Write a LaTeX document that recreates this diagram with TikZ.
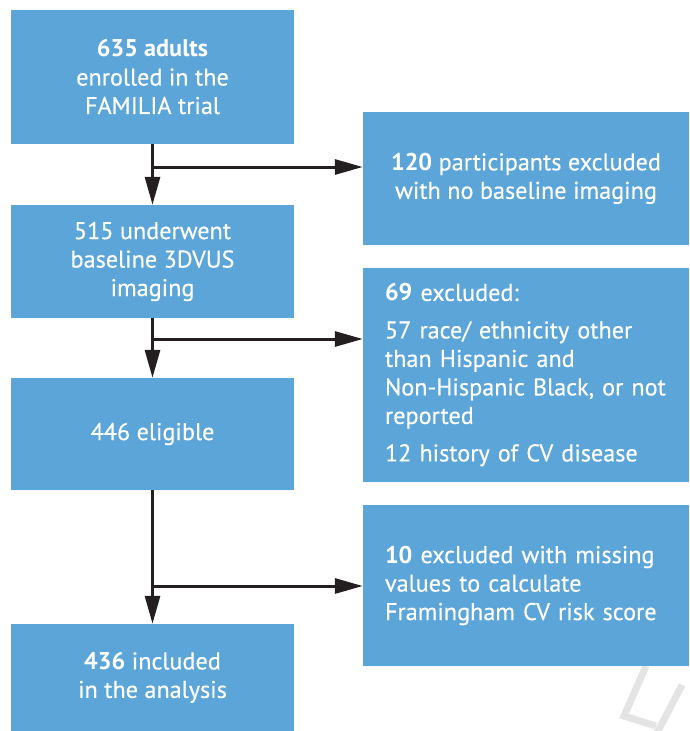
\documentclass[tikz,border=0pt]{standalone}
\usepackage{fontspec}
\setmainfont{PT Sans}[UprightFeatures={FakeBold=0.35}]
\usetikzlibrary{arrows.meta}
\definecolor{boxblue}{RGB}{91,165,217}
\definecolor{arrowblack}{RGB}{35,31,32}
\definecolor{wmgray}{RGB}{228,228,228}
\tikzset{
  flowbox/.style={fill=boxblue, draw=none, text=white, inner sep=0pt,
    font=\fontsize{24.2}{28.5}\selectfont, align=center},
  leftbox/.style={minimum width=283pt},
  rightbox/.style={minimum width=326pt},
  flowarrow/.style={draw=arrowblack, line width=3pt,
    -{Triangle[length=28pt,width=15pt]}},
  flowline/.style={draw=arrowblack, line width=3pt}
}
\begin{document}
\begin{tikzpicture}[x=1pt,y=-1pt]
\path[use as bounding box] (0,0) rectangle (689,731);
% watermark
\draw[wmgray, line width=7pt] (646,666) -- (624,716) -- (656,726);
\draw[wmgray, line width=7pt] (682,685) -- (657,733);
% left column
\node[flowbox, leftbox, minimum height=134pt] (a) at (152.5,77)
  {{\bfseries 635 adults}\\enrolled in the\\FAMILIA trial};
\node[flowbox, leftbox, minimum height=113pt] (b) at (152.5,261.5)
  {515 underwent\\baseline 3DVUS\\imaging};
\node[flowbox, leftbox, minimum height=112pt] (c) at (152.5,434)
  {446 eligible};
\node[flowbox, leftbox, minimum height=107pt] (d) at (152.5,677.5)
  {{\bfseries 436} included\\in the analysis};
% right column
\node[flowbox, rightbox, minimum height=133pt] (r1) at (526,178.5)
  {{\bfseries 120} participants excluded\\with no baseline imaging};
\node[flowbox, rightbox, minimum height=214pt, align=left, text width=282pt, inner xsep=22pt] (r2) at (526,375)
  {{\bfseries 69} excluded:\\[9pt]57 race/ ethnicity other\\than Hispanic and\\Non-Hispanic Black, or not\\reported\\[9pt]12 history of CV disease};
\node[flowbox, rightbox, minimum height=161pt, align=left, text width=282pt, inner xsep=22pt] (r3) at (526,585.5)
  {{\bfseries 10} excluded with missing\\values to calculate\\Framingham CV risk score};
% branch points
\coordinate (k1) at (152.5,167);
\coordinate (k2) at (152.5,339);
\coordinate (k3) at (152.5,586);
% connectors
\draw[flowarrow] (a.south) -- (b.north);
\draw[flowarrow] ([xshift=-1.5pt]k1) -- (k1 -| r1.west);
\draw[flowarrow] (b.south) -- (c.north);
\draw[flowarrow] ([xshift=-1.5pt]k2) -- (k2 -| r2.west);
\draw[flowarrow] (c.south) -- (d.north);
\draw[flowarrow] ([xshift=-1.5pt]k3) -- (k3 -| r3.west);
\end{tikzpicture}
\end{document}
